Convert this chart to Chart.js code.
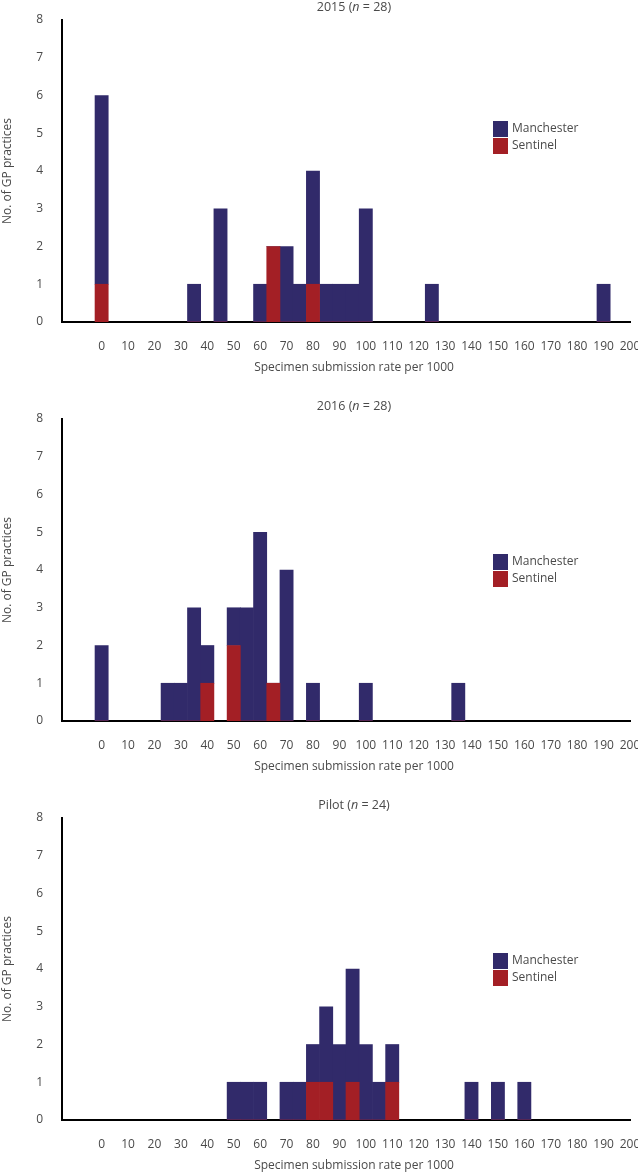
<!DOCTYPE html>
<html>
<head>
<meta charset="utf-8">
<script src="https://cdn.jsdelivr.net/npm/chart.js@4.4.1/dist/chart.umd.min.js"></script>
<style>
  body { margin: 0; background: #fff; width: 638px; height: 1172px; position: relative; overflow: hidden; }
  .panel { position: absolute; left: 0; width: 638px; }
</style>
</head>
<body>
<div class="panel" style="top:0px"><canvas id="c2015" width="638" height="374"></canvas></div>
<div class="panel" style="top:389px"><canvas id="c2016" width="638" height="384"></canvas></div>
<div class="panel" style="top:788px"><canvas id="cPilot" width="638" height="384"></canvas></div>
<script>
// tick labels on the rate axis
const xTicks = [0, 10, 20, 30, 40, 50, 60, 70, 80, 90, 100, 110, 120, 130, 140, 150, 160, 170, 180, 190, 200];
const seriesNames = ['Manchester', 'Sentinel'];

// 2015 (n = 28) - bin start values and counts per bin
const bins2015 = [0, 35, 45, 60, 65, 70, 75, 80, 85, 90, 95, 100, 125, 190];
const manchester2015 = [5, 1, 3, 1, 0, 2, 1, 3, 1, 1, 1, 3, 1, 1];
const sentinel2015 = [1, 0, 0, 0, 2, 0, 0, 1, 0, 0, 0, 0, 0, 0];

// 2016 (n = 28)
const bins2016 = [0, 25, 30, 35, 40, 50, 55, 60, 65, 70, 80, 100, 135];
const manchester2016 = [2, 1, 1, 3, 1, 1, 3, 5, 0, 4, 1, 1, 1];
const sentinel2016 = [0, 0, 0, 0, 1, 2, 0, 0, 1, 0, 0, 0, 0];

// Pilot (n = 24)
const binsPilot = [50, 55, 60, 70, 75, 80, 85, 90, 95, 100, 105, 110, 140, 150, 160];
const manchesterPilot = [1, 1, 1, 1, 1, 1, 2, 2, 3, 2, 1, 1, 1, 1, 1];
const sentinelPilot = [0, 0, 0, 0, 0, 1, 1, 0, 1, 0, 0, 1, 0, 0, 0];

const BLUE = '#312a6a';
const RED = '#a31f25';
const TEXT = '#4a4a4a';
const FONT = '"Open Sans", sans-serif';

function points(bins, counts) {
  return bins.map((b, i) => ({ x: b, y: counts[i] }));
}

// draws the italic-n title, the x axis title and the legend
const decorations = {
  id: 'decorations',
  afterDraw(chart, args, opts) {
    const ctx = chart.ctx;
    ctx.save();
    ctx.fillStyle = TEXT;
    ctx.textBaseline = 'middle';

    const parts = [
      { t: opts.label + ' (', it: false },
      { t: 'n', it: true },
      { t: ' = ' + opts.n + ')', it: false }
    ];
    let total = 0;
    parts.forEach(p => {
      ctx.font = (p.it ? 'italic ' : '') + '12.5px ' + FONT;
      p.w = ctx.measureText(p.t).width;
      total += p.w;
    });
    let x = opts.centerX - total / 2;
    parts.forEach(p => {
      ctx.font = (p.it ? 'italic ' : '') + '12.5px ' + FONT;
      ctx.textAlign = 'left';
      ctx.fillText(p.t, x, opts.titleY);
      x += p.w;
    });

    ctx.font = '12px ' + FONT;
    ctx.textAlign = 'center';
    ctx.fillText('Specimen submission rate per 1000', opts.centerX, opts.xTitleY);

    // legend: Manchester first, then Sentinel
    const order = [1, 0];
    order.forEach((di, row) => {
      const ds = chart.data.datasets[di];
      const y = opts.legendY + row * 17;
      ctx.fillStyle = ds.backgroundColor;
      ctx.fillRect(opts.legendX, y, 15, 16);
      ctx.fillStyle = TEXT;
      ctx.textAlign = 'left';
      ctx.font = '12px ' + FONT;
      ctx.fillText(ds.label, opts.legendX + 19, y + 8);
    });
    ctx.restore();
  }
};

function makeChart(id, label, n, bins, manchester, sentinel, legendY, off) {
  new Chart(document.getElementById(id), {
    type: 'bar',
    data: {
      datasets: [
        { label: seriesNames[1], data: points(bins, sentinel), backgroundColor: RED },
        { label: seriesNames[0], data: points(bins, manchester), backgroundColor: BLUE }
      ]
    },
    options: {
      responsive: false,
      animation: false,
      layout: { padding: { top: 20 + off, right: 8, left: 0, bottom: 0 } },
      barPercentage: 1,
      categoryPercentage: 1,
      plugins: {
        legend: { display: false },
        tooltip: { enabled: false },
        decorations: { label: label, n: n, centerX: 354, titleY: 7 + off, xTitleY: 368 + off, legendX: 493, legendY: legendY + off }
      },
      scales: {
        x: {
          type: 'linear',
          stacked: true,
          offset: false,
          min: -15,
          max: 200,
          grid: { display: false, drawTicks: false },
          border: { display: true, color: '#000', width: 2 },
          afterBuildTicks: s => { s.ticks = xTicks.map(v => ({ value: v })); },
          afterFit: s => { s.height = 52; s.paddingLeft = 0; s.paddingRight = 0; },
          ticks: { autoSkip: false, maxRotation: 0, padding: 17, color: TEXT, font: { family: FONT, size: 12 } }
        },
        y: {
          stacked: true,
          min: 0,
          max: 8,
          grid: { display: false, drawTicks: false },
          border: { display: true, color: '#000', width: 2 },
          afterFit: s => { s.width = 62; s.paddingTop = 0; s.paddingBottom = 0; },
          ticks: { stepSize: 1, padding: 19, color: TEXT, font: { family: FONT, size: 12 } },
          title: { display: true, text: 'No. of GP practices', color: TEXT, padding: 0, font: { family: FONT, size: 12 } }
        }
      }
    },
    plugins: [decorations]
  });
}

makeChart('c2015', '2015', 28, bins2015, manchester2015, sentinel2015, 121, 0);
makeChart('c2016', '2016', 28, bins2016, manchester2016, sentinel2016, 155, 10);
makeChart('cPilot', 'Pilot', 24, binsPilot, manchesterPilot, sentinelPilot, 155, 10);
</script>
</body>
</html>
